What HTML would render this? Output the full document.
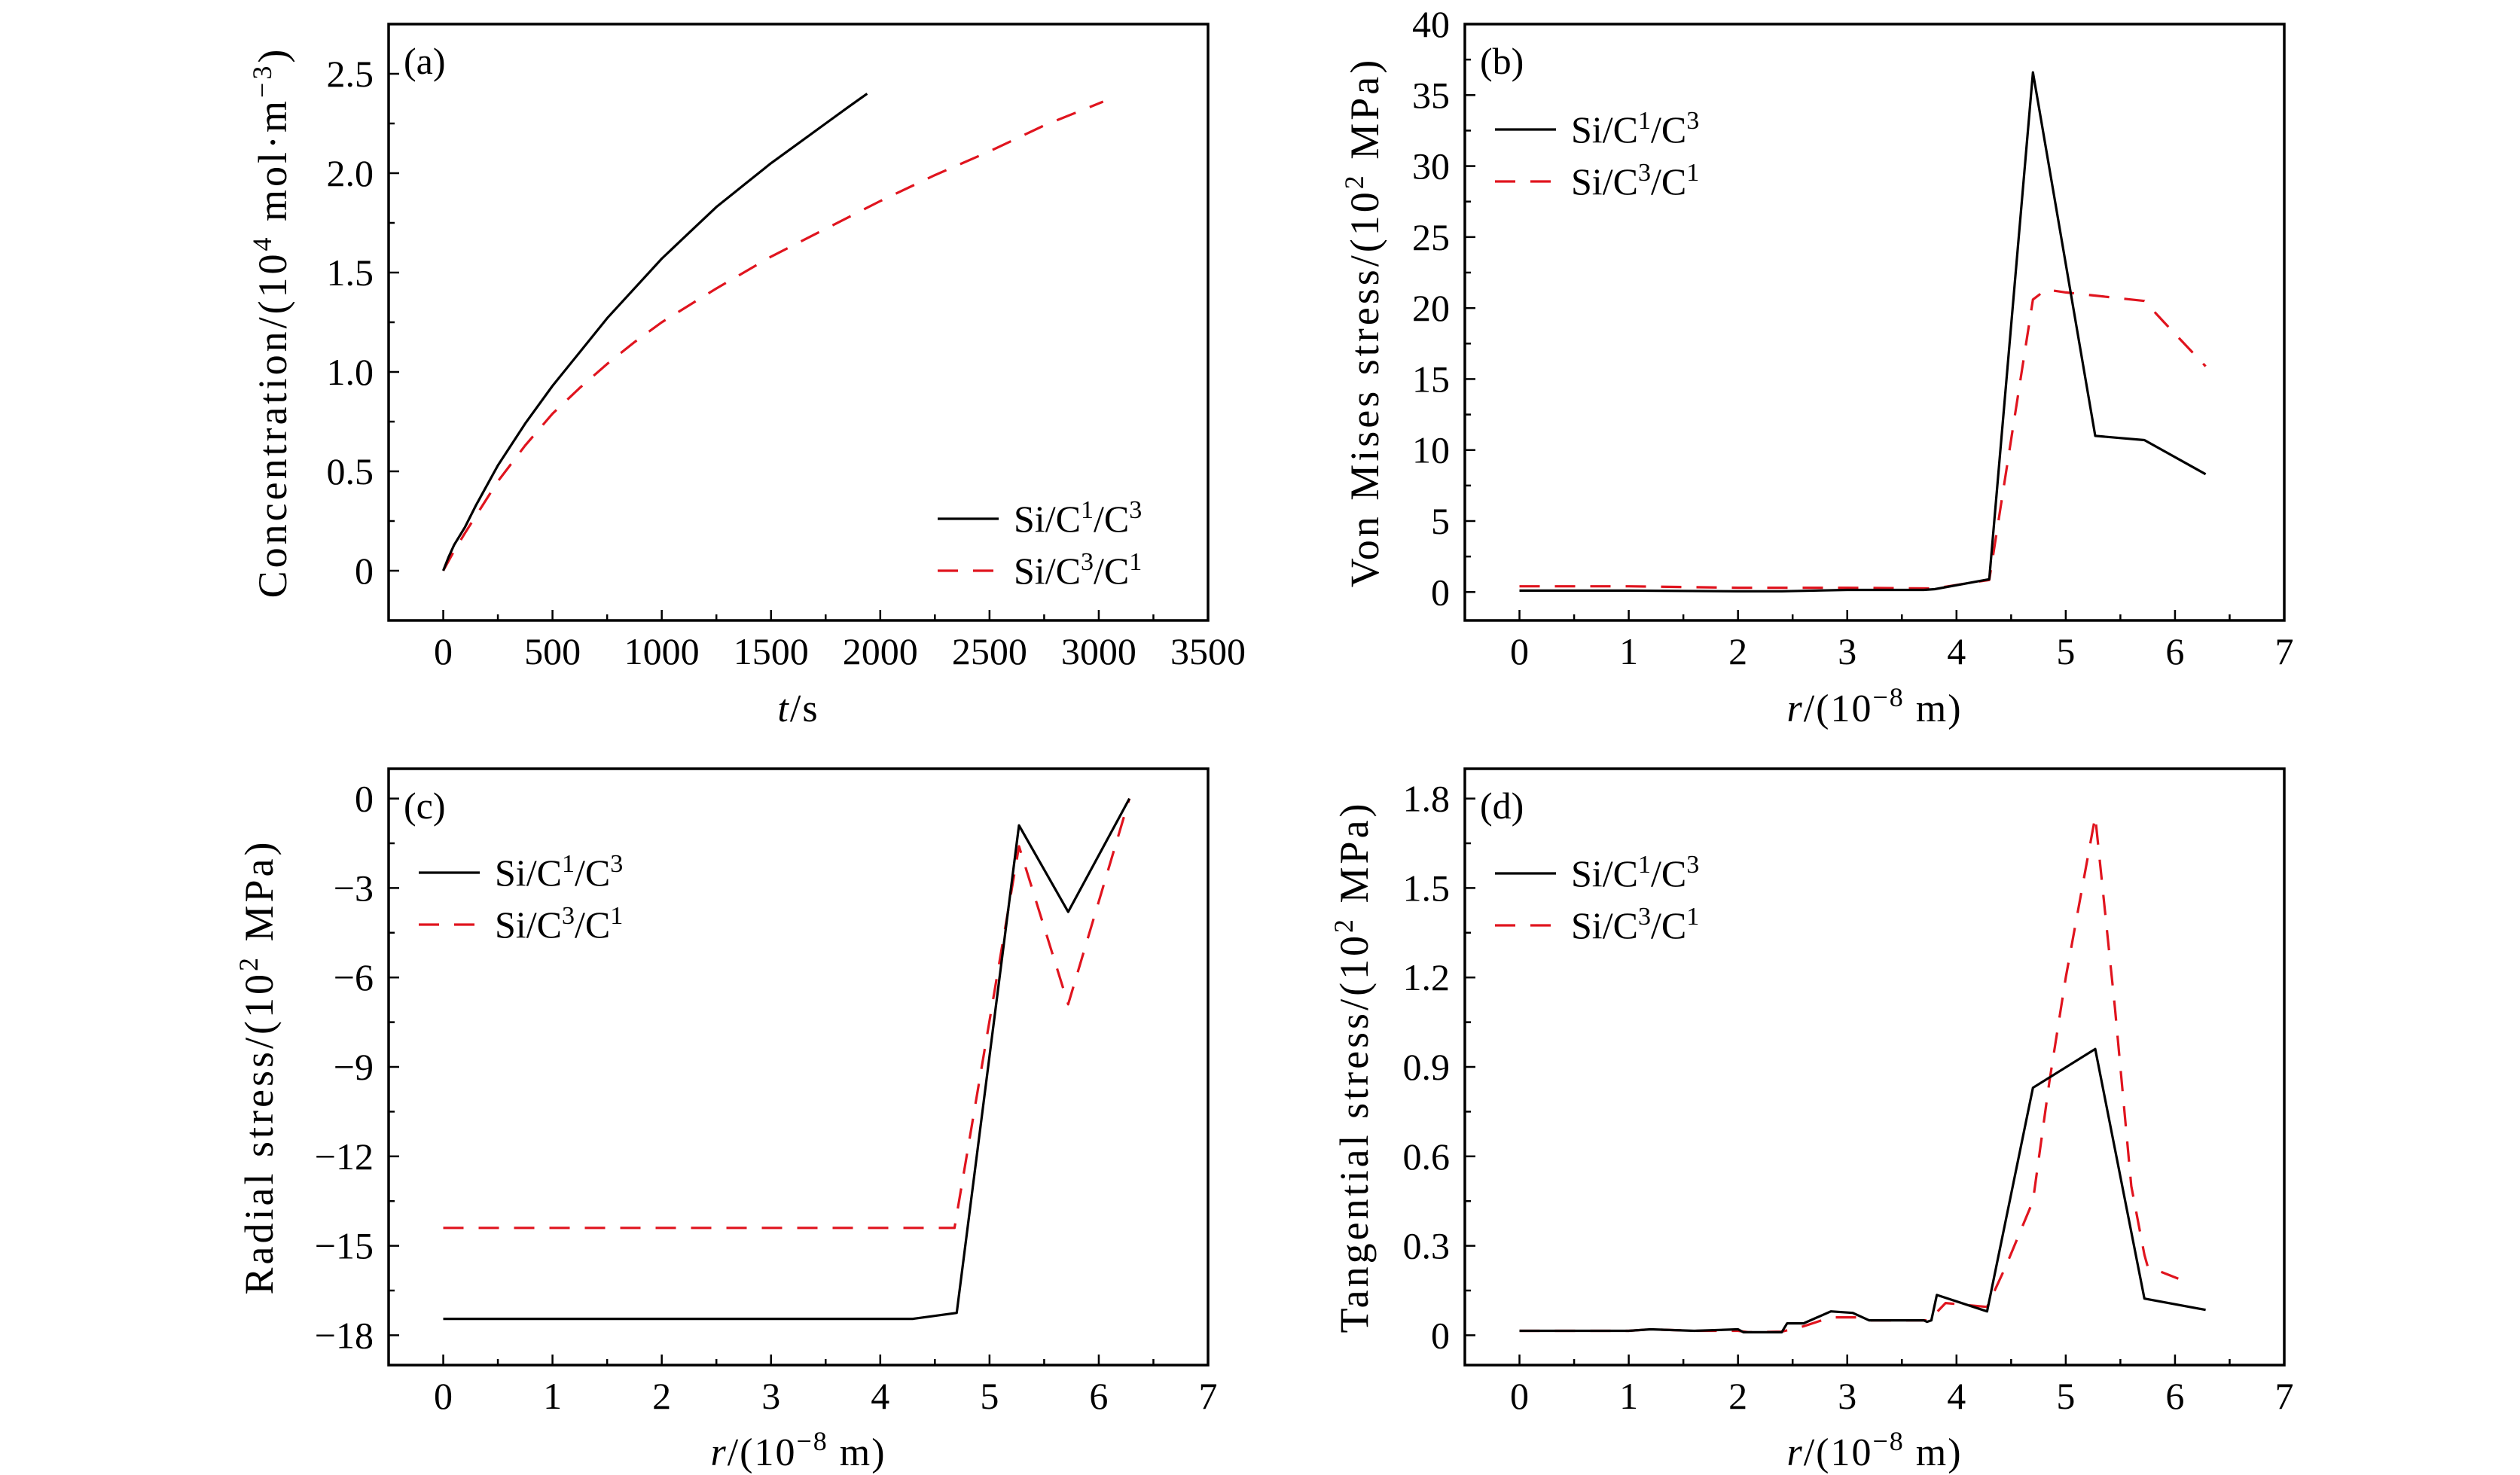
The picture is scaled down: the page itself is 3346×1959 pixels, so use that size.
<!DOCTYPE html>
<html><head><meta charset="utf-8">
<style>
html,body{margin:0;padding:0;background:#fff;}
svg{display:block;font-family:"Liberation Serif",serif;}
</style></head>
<body>
<svg id="fig" width="3346" height="1959" viewBox="0 0 3346 1959" xmlns="http://www.w3.org/2000/svg"></svg>
<script>
// Panel (a) data
const aBlackT = [0,25,50,100,150,250,375,500,625,750,875,1000,1125,1250,1375,1500,1625,1750,1850,1940];
const aBlackC = [0,0.07,0.13,0.22,0.33,0.53,0.74,0.93,1.10,1.27,1.42,1.57,1.70,1.83,1.94,2.05,2.15,2.25,2.33,2.40];
const aRedT = [0,50,100,250,375,500,625,750,875,1000,1250,1500,1750,2000,2250,2500,2750,3020];
const aRedC = [0,0.1,0.19,0.45,0.63,0.79,0.92,1.04,1.15,1.25,1.42,1.58,1.72,1.86,1.99,2.11,2.24,2.36];
const aXTicks = [0,500,1000,1500,2000,2500,3000,3500];
const aYTicks = [0,0.5,1.0,1.5,2.0,2.5];
const aYLabels = ["0","0.5","1.0","1.5","2.0","2.5"];
// Panel (b) data
const bBlackR = [0,1,2,2.4,3,3.7,3.8,4.3,4.7,5.27,5.72,6.28];
const bBlackS = [0.1,0.1,0.05,0.05,0.15,0.15,0.2,0.9,36.6,11.0,10.7,8.3];
const bRedR = [0,1,2,3,3.8,4.0,4.3,4.7,4.82,5.0,5.72,5.9,6.28];
const bRedS = [0.4,0.4,0.3,0.3,0.25,0.5,0.85,20.6,21.3,21.1,20.5,19.0,15.9];
const bYTicks = [0,5,10,15,20,25,30,35,40];
// Panel (c) data
const cBlackR = [0,4.3,4.7,5.27,5.72,6.28];
const cBlackS = [-17.45,-17.45,-17.25,-0.9,-3.8,0];
const cRedR = [0,4.68,5.27,5.72,6.28];
const cRedS = [-14.4,-14.4,-1.6,-6.9,0];
const cYTicks = [0,-3,-6,-9,-12,-15,-18];
// Panel (d) data
const dBlackR = [0,1.0,1.2,1.6,2.0,2.05,2.4,2.45,2.6,2.85,3.05,3.2,3.7,3.73,3.77,3.82,4.28,4.7,5.27,5.72,6.28];
const dBlackS = [0.015,0.015,0.02,0.015,0.02,0.01,0.01,0.04,0.04,0.08,0.075,0.05,0.05,0.045,0.05,0.135,0.08,0.83,0.96,0.123,0.085];
const dRedR = [0,1.0,1.2,1.6,2.0,2.1,2.4,2.6,2.85,3.1,3.2,3.75,3.8,3.9,4.28,4.45,4.7,4.85,5.0,5.27,5.45,5.6,5.72,5.75,6.03];
const dRedS = [0.015,0.015,0.02,0.015,0.015,0.01,0.012,0.03,0.06,0.06,0.05,0.05,0.07,0.108,0.095,0.23,0.45,0.85,1.2,1.74,1.1,0.5,0.27,0.23,0.19];
const dYTicks = [0,0.3,0.6,0.9,1.2,1.5,1.8];
const dYLabels = ["0","0.3","0.6","0.9","1.2","1.5","1.8"];
const rTicks = [0,1,2,3,4,5,6,7];

const NS = "http://www.w3.org/2000/svg";
const svg = document.getElementById('fig');
function mk(tag, attrs, parent){
  const e = document.createElementNS(NS, tag);
  for (const k in attrs) e.setAttribute(k, attrs[k]);
  (parent||svg).appendChild(e);
  return e;
}
function fmtMinus(v){ return String(v).replace('-', '\u2212'); }

function panel(p){
  const g = mk('g', {});
  
  
  const L=p.left, T=p.top, W=1088, H=792;
  const sx = v => L + (v - p.xmin)/(p.xmax - p.xmin)*W;
  const sy = v => T + H - (v - p.ymin)/(p.ymax - p.ymin)*H;
  const tk = mk('g', {stroke:'#000','stroke-width':2.5}, g);
  
  
  for (let i=0;i<p.xTicks.length;i++){
    const v=p.xTicks[i], x=sx(v);
    mk('line',{x1:x,x2:x,y1:T+H,y2:T+H-14},tk);
    if (i<p.xTicks.length-1){
      const xm = sx((v+p.xTicks[i+1])/2);
      mk('line',{x1:xm,x2:xm,y1:T+H,y2:T+H-8},tk);
    }
    const t = mk('text',{x:x,y:T+H+58,'text-anchor':'middle','font-size':50,fill:'#000',stroke:'none'},g);
    t.textContent = String(v);
    
    
  }
  for (let i=0;i<p.yTicks.length;i++){
    const v=p.yTicks[i], y=sy(v);
    mk('line',{x1:L,x2:L+14,y1:y,y2:y},tk);
    if (i<p.yTicks.length-1){
      const ym = sy((v+p.yTicks[i+1])/2);
      mk('line',{x1:L,x2:L+8,y1:ym,y2:ym},tk);
    }
    const t = mk('text',{x:L-20,y:y+17,'text-anchor':'end','font-size':50,fill:'#000',stroke:'none'},g);
    t.textContent = p.yLabels ? p.yLabels[i] : fmtMinus(v);
    
    
  }
  function series(xs, ys, color, dash, name){
    const d = xs.map((x,i)=>(i?'L':'M')+sx(x).toFixed(1)+','+sy(ys[i]).toFixed(1)).join(' ');
    const a = {d:d,fill:'none',stroke:color,'stroke-width':3.2,'stroke-linejoin':'round'};
    if (dash) a['stroke-dasharray']='27,20';
    const e = mk('path', a, g);
    
    
  }
  series(p.rx, p.ry, '#e0141e', true, 'series-si-c3-c1-' + p.id);
  series(p.bx, p.by, '#000', false, 'series-si-c1-c3-' + p.id);
  const fr = mk('rect',{x:L,y:T,width:W,height:H,fill:'none',stroke:'#000','stroke-width':3.5},g);
  
  
  const pl = mk('text',{x:L+20,y:T+66,'font-size':50,fill:'#000'},g);
  pl.textContent = '(' + p.id + ')';
  
  
  const lg = mk('g',{},g);
  
  
  const entries = [['Si/C','1','/C','3',false],['Si/C','3','/C','1',true]];
  entries.forEach((en,i)=>{
    const y = p.legY + i*69;
    const ln = mk('line',{x1:p.legX,x2:p.legX+81,y1:y,y2:y,stroke:en[4]?'#e0141e':'#000','stroke-width':3.2},lg);
    if (en[4]) ln.setAttribute('stroke-dasharray','27,20');
    const t = mk('text',{x:p.legX+101,y:y+17,'font-size':50,fill:'#000'},lg);
    
    
    t.innerHTML = en[0]+'<tspan dy="-18" font-size="34">'+en[1]+'</tspan><tspan dy="18">'+en[2]+'</tspan><tspan dy="-18" font-size="34">'+en[3]+'</tspan>';
  });
  const xt = mk('text',{x:L+W/2,y:p.xTitleY,'text-anchor':'middle','font-size':52,fill:'#000','letter-spacing':2},g);
  
  
  xt.innerHTML = p.xTitle;
  const yt = mk('text',{x:0,y:0,'text-anchor':'middle','font-size':54,fill:'#000','letter-spacing':p.ls,transform:'translate('+p.yTitleX+','+(T+H/2)+') rotate(-90)'},g);
  
  
  yt.innerHTML = p.yTitle;
}
const rTitle = '<tspan font-style="italic">r</tspan>/(10<tspan dy="-20" font-size="36">\u22128</tspan><tspan dy="20"> m)</tspan>';
panel({id:'a',left:516,top:32,xmin:-250,xmax:3500,ymin:-0.25,ymax:2.75,xTicks:aXTicks,yTicks:aYTicks,yLabels:aYLabels,
  bx:aBlackT,by:aBlackC,rx:aRedT,ry:aRedC,legX:1245,legY:689,xTitleY:958,yTitleX:380,ls:4,
  xTitle:'<tspan font-style="italic">t</tspan>/s',
  yTitle:'Concentration/(10<tspan dy="-20" font-size="36">4</tspan><tspan dy="20"> mol·m</tspan><tspan dy="-20" font-size="36">\u22123</tspan><tspan dy="20">)</tspan>'});
panel({id:'b',left:1945,top:32,xmin:-0.5,xmax:7,ymin:-2,ymax:40,xTicks:rTicks,yTicks:bYTicks,
  bx:bBlackR,by:bBlackS,rx:bRedR,ry:bRedS,legX:1985,legY:172,xTitleY:958,yTitleX:1830,ls:4,
  xTitle:rTitle,
  yTitle:'Von Mises stress/(10<tspan dy="-20" font-size="36">2</tspan><tspan dy="20"> MPa)</tspan>'});
panel({id:'c',left:516,top:1021,xmin:-0.5,xmax:7,ymin:-19,ymax:1,xTicks:rTicks,yTicks:cYTicks,
  bx:cBlackR,by:cBlackS,rx:cRedR,ry:cRedS,legX:556,legY:1159,xTitleY:1946,yTitleX:362,ls:4,
  xTitle:rTitle,
  yTitle:'Radial stress/(10<tspan dy="-20" font-size="36">2</tspan><tspan dy="20"> MPa)</tspan>'});
panel({id:'d',left:1945,top:1021,xmin:-0.5,xmax:7,ymin:-0.1,ymax:1.9,xTicks:rTicks,yTicks:dYTicks,yLabels:dYLabels,
  bx:dBlackR,by:dBlackS,rx:dRedR,ry:dRedS,legX:1985,legY:1160,xTitleY:1946,yTitleX:1816,ls:4,
  xTitle:rTitle,
  yTitle:'Tangential stress/(10<tspan dy="-20" font-size="36">2</tspan><tspan dy="20"> MPa)</tspan>'});
</script>
</body></html>
